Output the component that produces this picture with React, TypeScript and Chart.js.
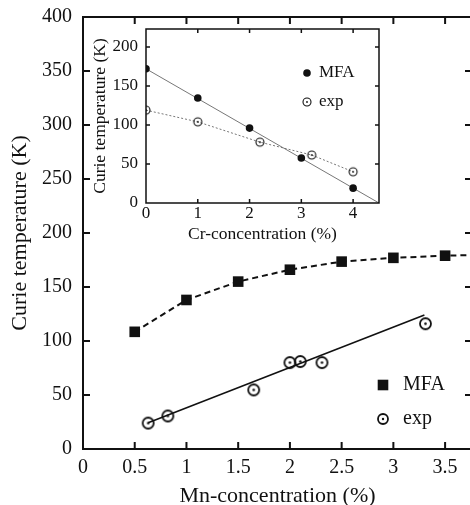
import React, { useEffect, useRef } from 'react';
import { Chart, registerables } from 'chart.js';
Chart.register(...registerables);

const FONT = '"Liberation Serif", "Times New Roman", serif';
const INK = '#111';

// Main chart tick values
const mainTicksX = [0, 0.5, 1, 1.5, 2, 2.5, 3, 3.5];
const mainTicksY = [0, 50, 100, 150, 200, 250, 300, 350, 400];
// Inset tick values
const insetTicksX = [0, 1, 2, 3, 4];
const insetTicksY = [0, 50, 100, 150, 200];

// Main: Curie temperature vs Mn concentration
const mfaMnX = [0.5, 1, 1.5, 2, 2.5, 3, 3.5, 4];
const mfaMnY = [108.5, 138, 155, 166, 173.5, 177, 179, 180];
const expMnX = [0.63, 0.82, 1.65, 2.0, 2.1, 2.31, 3.31];
const expMnY = [24, 30.6, 54.7, 80, 81, 80, 116];
const fitMnX = [0.63, 3.3];
const fitMnY = [24.3, 124];

// Inset: Curie temperature vs Cr concentration
const mfaCrX = [0, 1, 2, 3, 4];
const mfaCrY = [172, 134.6, 96, 57.7, 19];
const mfaCrLineX = [0, 4.5];
const mfaCrLineY = [172, 0];
const expCrX = [0, 1, 2.2, 3.2, 4];
const expCrY = [119, 104, 78, 61.5, 40];

const toPts = (xs: number[], ys: number[]) => xs.map((x, i) => ({ x, y: ys[i] }));

function makeDotCircle(r: number, lw: number, dotR: number) {
  const size = Math.ceil(2 * r + lw + 2);
  const c = document.createElement('canvas');
  c.width = size;
  c.height = size;
  const g = c.getContext('2d')!;
  g.strokeStyle = INK;
  g.lineWidth = lw;
  g.beginPath();
  g.arc(size / 2, size / 2, r, 0, Math.PI * 2);
  g.stroke();
  g.fillStyle = INK;
  g.beginPath();
  g.arc(size / 2, size / 2, dotR, 0, Math.PI * 2);
  g.fill();
  return c;
}

function makeFramePlugin(lw: number, tickLen: number, xTicks: number[], yTicks: number[]) {
  return {
    id: 'frameTicks',
    afterDraw(chart: any) {
      const { ctx, chartArea } = chart;
      const { left, right, top, bottom } = chartArea;
      const xs = chart.scales.x;
      const ys = chart.scales.y;
      ctx.save();
      ctx.strokeStyle = INK;
      ctx.lineWidth = lw;
      ctx.strokeRect(left, top, right - left, bottom - top);
      ctx.beginPath();
      for (const v of xTicks) {
        const px = xs.getPixelForValue(v);
        if (px <= left + 1 || px >= right - 1) continue;
        ctx.moveTo(px, bottom);
        ctx.lineTo(px, bottom - tickLen);
        ctx.moveTo(px, top);
        ctx.lineTo(px, top + tickLen);
      }
      for (const v of yTicks) {
        const py = ys.getPixelForValue(v);
        if (py <= top + 1 || py >= bottom - 1) continue;
        ctx.moveTo(left, py);
        ctx.lineTo(left + tickLen, py);
        ctx.moveTo(right, py);
        ctx.lineTo(right - tickLen, py);
      }
      ctx.stroke();
      ctx.restore();
    },
  };
}

type LegendItem = { label: string; mx: number; my: number; tx: number; draw: (ctx: CanvasRenderingContext2D, x: number, y: number) => void };

function makeLegendPlugin(items: LegendItem[], fontSize: number) {
  return {
    id: 'customLegend',
    afterDraw(chart: any) {
      const ctx = chart.ctx as CanvasRenderingContext2D;
      ctx.save();
      ctx.font = `${fontSize}px ${FONT}`;
      ctx.textBaseline = 'middle';
      ctx.textAlign = 'left';
      ctx.fillStyle = INK;
      for (const it of items) {
        it.draw(ctx, it.mx, it.my);
        ctx.fillStyle = INK;
        ctx.fillText(it.label, it.tx, it.my);
      }
      ctx.restore();
    },
  };
}

export default function App() {
  const mainRef = useRef<HTMLCanvasElement>(null);
  const insetRef = useRef<HTMLCanvasElement>(null);

  useEffect(() => {
    const dotMain = makeDotCircle(5.5, 1.8, 1.3);
    const dotMainLegend = makeDotCircle(5, 1.8, 1.2);
    const dotInset = makeDotCircle(4, 1.1, 0.9);

    const mainLegend = makeLegendPlugin(
      [
        {
          label: 'MFA', mx: 383, my: 385, tx: 403,
          draw: (ctx, x, y) => { ctx.fillStyle = INK; ctx.fillRect(x - 5.3, y - 5.3, 10.6, 10.6); },
        },
        {
          label: 'exp', mx: 383, my: 419, tx: 403,
          draw: (ctx, x, y) => { ctx.drawImage(dotMainLegend, x - dotMainLegend.width / 2, y - dotMainLegend.height / 2); },
        },
      ],
      20
    );

    const main = new Chart(mainRef.current!, {
      type: 'scatter',
      data: {
        datasets: [
          {
            label: 'exp',
            data: toPts(expMnX, expMnY),
            showLine: false,
            pointStyle: dotMain as any,
            pointRadius: 6,
            order: 0,
          },
          {
            label: 'MFA',
            data: toPts(mfaMnX, mfaMnY),
            showLine: true,
            borderColor: INK,
            borderWidth: 2,
            borderDash: [6, 4],
            pointStyle: 'rect',
            pointRadius: mfaMnX.map((x) => (x > 3.76 ? 0 : 7.5)),
            pointBackgroundColor: INK,
            pointBorderWidth: 0,
            order: 1,
          },
          {
            label: 'fit',
            data: toPts(fitMnX, fitMnY),
            showLine: true,
            borderColor: INK,
            borderWidth: 1.6,
            pointRadius: 0,
            order: 2,
          },
        ],
      },
      options: {
        responsive: false,
        animation: false,
        devicePixelRatio: 1,
        layout: { padding: { top: 17, right: 8, left: 0, bottom: 0 } },
        plugins: { legend: { display: false }, tooltip: { enabled: false } },
        scales: {
          x: {
            type: 'linear',
            min: 0,
            max: 3.76,
            afterBuildTicks: (s: any) => { s.ticks = mainTicksX.map((v) => ({ value: v })); },
            afterFit: (s: any) => { s.height = 71; s.paddingLeft = 0; s.paddingRight = 0; },
            grid: { display: false, drawTicks: false },
            border: { display: false },
            ticks: { padding: 7, color: INK, font: { family: FONT, size: 20 }, callback: (v: any) => String(v), maxRotation: 0, autoSkip: false },
            title: { display: true, text: 'Mn-concentration (%)', color: INK, font: { family: FONT, size: 22 }, padding: { top: 0, bottom: 10.8 } },
          },
          y: {
            type: 'linear',
            min: 0,
            max: 400,
            afterBuildTicks: (s: any) => { s.ticks = mainTicksY.map((v) => ({ value: v })); },
            afterFit: (s: any) => { s.width = 83; s.paddingTop = 0; s.paddingBottom = 0; },
            grid: { display: false, drawTicks: false },
            border: { display: false },
            ticks: { padding: 11, color: INK, font: { family: FONT, size: 20 }, callback: (v: any) => String(v), autoSkip: false },
            title: { display: true, text: 'Curie temperature (K)', color: INK, font: { family: FONT, size: 22 }, padding: { top: 7, bottom: 0 } },
          },
        },
      },
      plugins: [makeFramePlugin(2, 7, mainTicksX, mainTicksY), mainLegend],
    } as any);

    const insetLegend = makeLegendPlugin(
      [
        {
          label: 'MFA', mx: 219, my: 53, tx: 231,
          draw: (ctx, x, y) => { ctx.fillStyle = INK; ctx.beginPath(); ctx.arc(x, y, 3.8, 0, Math.PI * 2); ctx.fill(); },
        },
        {
          label: 'exp', mx: 219, my: 82, tx: 231,
          draw: (ctx, x, y) => { ctx.drawImage(dotInset, x - dotInset.width / 2, y - dotInset.height / 2); },
        },
      ],
      17
    );

    const inset = new Chart(insetRef.current!, {
      type: 'scatter',
      data: {
        datasets: [
          {
            label: 'MFA',
            data: toPts(mfaCrX, mfaCrY),
            showLine: false,
            pointStyle: 'circle',
            pointRadius: 3.8,
            pointBackgroundColor: INK,
            pointBorderWidth: 0,
            order: 0,
          },
          {
            label: 'exp',
            data: toPts(expCrX, expCrY),
            showLine: true,
            borderColor: '#777',
            borderWidth: 1,
            borderDash: [2, 2],
            pointStyle: dotInset as any,
            pointRadius: 4,
            order: 1,
          },
          {
            label: 'MFA line',
            data: toPts(mfaCrLineX, mfaCrLineY),
            showLine: true,
            borderColor: '#777',
            borderWidth: 1,
            pointRadius: 0,
            order: 2,
          },
        ],
      },
      options: {
        responsive: false,
        animation: false,
        devicePixelRatio: 1,
        layout: { padding: { top: 9, right: 9, left: 0, bottom: 0 } },
        plugins: { legend: { display: false }, tooltip: { enabled: false } },
        scales: {
          x: {
            type: 'linear',
            min: 0,
            max: 4.5,
            afterBuildTicks: (s: any) => { s.ticks = insetTicksX.map((v) => ({ value: v })); },
            afterFit: (s: any) => { s.height = 52; s.paddingLeft = 0; s.paddingRight = 0; },
            grid: { display: false, drawTicks: false },
            border: { display: false },
            ticks: { padding: 0, color: INK, font: { family: FONT, size: 17 }, callback: (v: any) => String(v), maxRotation: 0, autoSkip: false },
            title: { display: true, text: 'Cr-concentration (%)', color: INK, font: { family: FONT, size: 17.5 }, padding: { top: 0, bottom: 9.8 } },
          },
          y: {
            type: 'linear',
            min: 0,
            max: 223,
            afterBuildTicks: (s: any) => { s.ticks = insetTicksY.map((v) => ({ value: v })); },
            afterFit: (s: any) => { s.width = 58; s.paddingTop = 0; s.paddingBottom = 0; },
            grid: { display: false, drawTicks: false },
            border: { display: false },
            ticks: { padding: 8, color: INK, font: { family: FONT, size: 17 }, callback: (v: any) => String(v), autoSkip: false },
            title: { display: true, text: 'Curie temperature (K)', color: INK, font: { family: FONT, size: 17.5 }, padding: { top: 2, bottom: 0 } },
          },
        },
      },
      plugins: [makeFramePlugin(1.5, 4, insetTicksX, insetTicksY), insetLegend],
    } as any);

    return () => {
      main.destroy();
      inset.destroy();
    };
  }, []);

  return (
    <div style={{ position: 'absolute', left: 0, top: 0, width: 470, height: 505, overflow: 'hidden', background: '#fff' }}>
      <canvas ref={mainRef} width={480} height={520} style={{ position: 'absolute', left: 0, top: 0, width: 480, height: 520 }} />
      <canvas ref={insetRef} width={300} height={235} style={{ position: 'absolute', left: 88, top: 20, width: 300, height: 235 }} />
    </div>
  );
}
